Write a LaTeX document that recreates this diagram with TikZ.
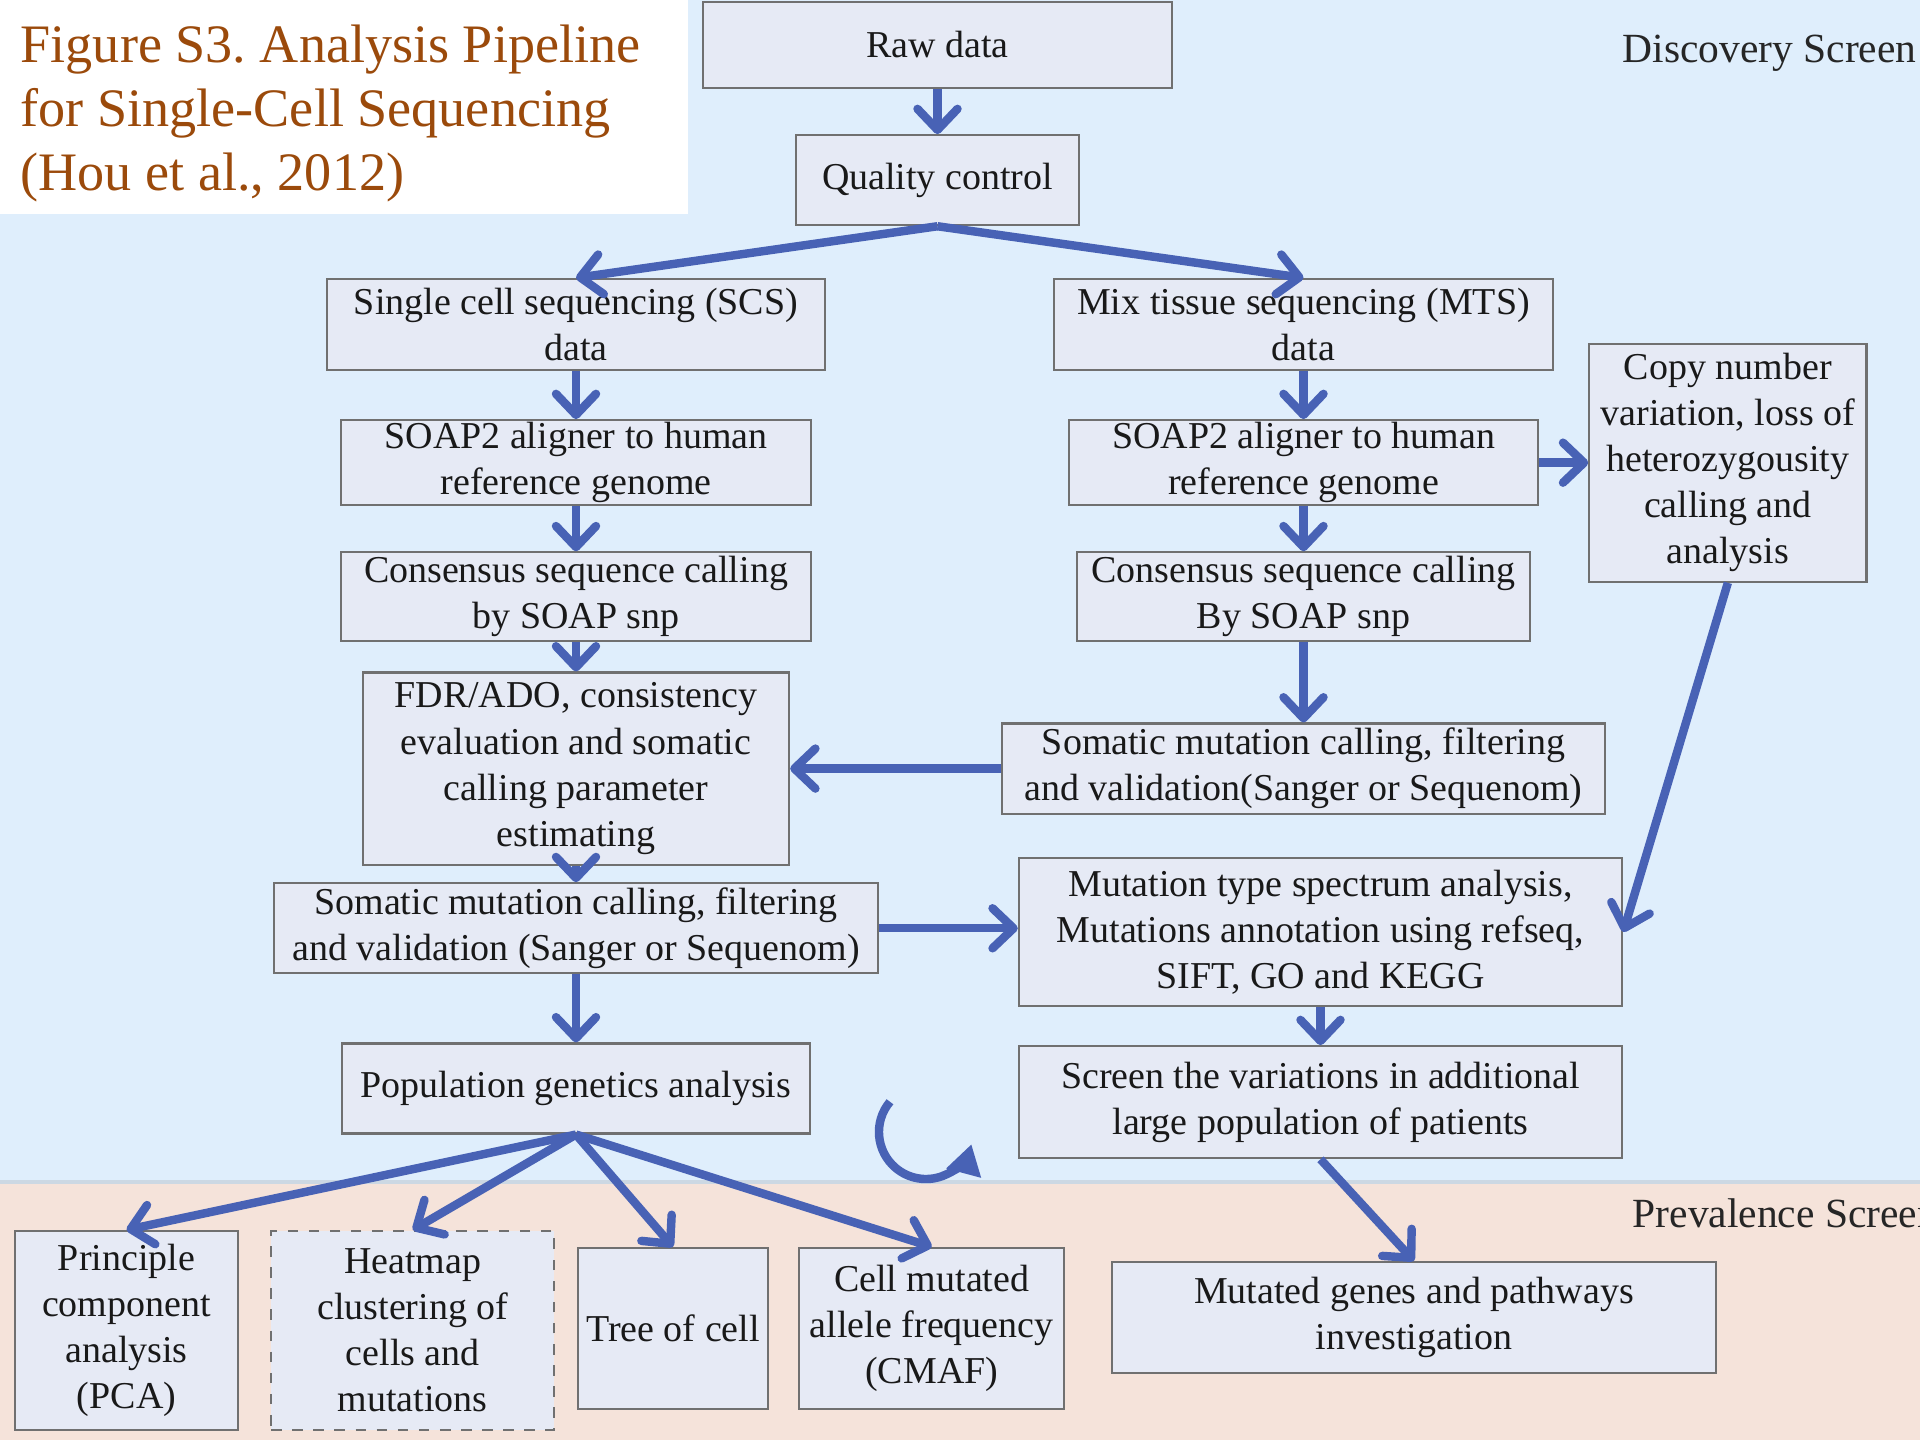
\documentclass[tikz,border=0pt]{standalone}
\usepackage{fontspec}
\setmainfont{Liberation Serif}
\usetikzlibrary{positioning,arrows.meta}
\frenchspacing

\definecolor{discbg}{HTML}{DFEEFC}
\definecolor{prevbg}{HTML}{F5E3DA}
\definecolor{boxfill}{HTML}{E6EAF5}
\definecolor{boxline}{HTML}{707070}
\definecolor{flowblue}{HTML}{4862B5}
\definecolor{titlebrown}{HTML}{9B4A0B}

\begin{document}
\begin{tikzpicture}[
  x=0.01cm, y=-0.01cm,
  box/.style={draw=boxline, fill=boxfill, line width=0.6pt, align=center,
    font=\fontsize{10.8}{13.1}\selectfont, inner xsep=2pt, inner ysep=0.5pt,
    text=black!90},
  flow/.style={draw=flowblue, line width=2.4pt,
    -{Straight Barb[round,length=2.1mm,width=4mm]}},
  loopflow/.style={draw=flowblue, line width=2.4pt,
    -{Triangle[length=3mm,width=3.4mm]}},
  zonelabel/.style={font=\fontsize{11.8}{14}\selectfont, text=black!85,
    anchor=west, inner sep=0pt},
  node distance=0.48cm
]
\useasboundingbox (0,0) rectangle (1920,1440);
\clip (0,0) rectangle (1920,1440);

% screens
\fill[discbg] (0,0) rectangle (1920,1182);
\fill[prevbg] (0,1182) rectangle (1920,1440);
\draw[color=discbg!80!gray, line width=1pt] (0,1182) -- (1920,1182);
\fill[white] (0,0) rectangle (688,214);

\node[anchor=north west, inner sep=0pt, align=left, text=titlebrown,
  font=\fontsize{15.4}{18.2}\selectfont] (title) at (20,24)
  {Figure S3. Analysis Pipeline\\for Single-Cell Sequencing\\(Hou et al., 2012)};
\node[zonelabel] (disc) at (1622,53) {Discovery Screen};
\node[zonelabel] (prev) at (1632,1213) {Prevalence Screen};

% top
\node[box, minimum width=4.69cm, minimum height=0.86cm] (raw) at (937.5,45) {Raw data};
\node[box, minimum width=2.82cm, minimum height=0.9cm, below=0.45cm of raw] (qc) {Quality control};

% single cell branch
\node[box, minimum width=4.97cm, minimum height=0.91cm] (scs) at (576,324.5)
  {Single cell sequencing (SCS)\\data};
\node[box, minimum width=4.69cm, minimum height=0.85cm, below=of scs] (soapL)
  {SOAP2 aligner to human\\reference genome};
\node[box, minimum width=4.69cm, minimum height=0.89cm, below=0.45cm of soapL] (consL)
  {Consensus sequence calling\\by SOAP snp};
\node[box, minimum width=4.26cm, minimum height=1.92cm, below=0.29cm of consL] (fdr)
  {FDR/ADO, consistency\\evaluation and somatic\\calling parameter\\estimating};
\node[box, minimum width=6.04cm, minimum height=0.9cm, below=0.165cm of fdr] (somL)
  {Somatic mutation calling, filtering\\and validation (Sanger or Sequenom)};
\node[box, minimum width=4.68cm, minimum height=0.9cm, below=0.68cm of somL] (pop)
  {Population genetics analysis};

% mix tissue branch
\node[box, minimum width=4.99cm, minimum height=0.91cm] (mts) at (1303.5,324.5)
  {Mix tissue sequencing (MTS)\\data};
\node[box, minimum width=4.69cm, minimum height=0.85cm, below=of mts] (soapR)
  {SOAP2 aligner to human\\reference genome};
\node[box, minimum width=4.52cm, minimum height=0.89cm, below=0.45cm of soapR] (consR)
  {Consensus sequence calling\\By SOAP snp};
\node[box, minimum width=6.02cm, minimum height=0.9cm, below=0.8cm of consR] (somR)
  {Somatic mutation calling, filtering\\and validation(Sanger or Sequenom)};
\node[box, minimum width=2.77cm, minimum height=2.38cm, right=0.49cm of soapR] (cnv)
  {Copy number\\variation, loss of\\heterozygousity\\calling and\\analysis};

\node[box, minimum width=6.03cm, minimum height=1.48cm] (mtype) at (1320.5,932)
  {Mutation type spectrum analysis,\\Mutations annotation using refseq,\\SIFT, GO and KEGG};
\node[box, minimum width=6.03cm, minimum height=1.12cm, below=0.38cm of mtype] (scr)
  {Screen the variations in additional\\large population of patients};

% prevalence screen
\node[box, minimum width=2.23cm, minimum height=1.99cm] (pca) at (126.5,1330.5)
  {Principle\\component\\analysis\\(PCA)};
\node[box, dashed, minimum width=2.83cm, minimum height=1.99cm, right=0.31cm of pca] (heat)
  {Heatmap\\clustering of\\cells and\\mutations};
\node[box, minimum width=1.9cm, minimum height=1.61cm] (tree) at (673,1328.5) {Tree of cell};
\node[box, minimum width=2.65cm, minimum height=1.61cm, right=0.29cm of tree] (cmaf)
  {Cell mutated\\allele frequency\\(CMAF)};
\node[box, minimum width=6.04cm, minimum height=1.11cm] (genes) at (1414,1317.5)
  {Mutated genes and pathways\\investigation};

% connectors
\draw[flow] (raw.south) -- (qc.north);
\draw[flow] (qc.south) -- (scs.north);
\draw[flow] (qc.south) -- (mts.north);
\draw[flow] (scs.south) -- (soapL.north);
\draw[flow] (soapL.south) -- (consL.north);
\draw[flow] (consL.south) -- (fdr.north);
\draw[flow] (fdr.south) -- (somL.north);
\draw[flow] (somL.south) -- (pop.north);
\draw[flow] (mts.south) -- (soapR.north);
\draw[flow] (soapR.south) -- (consR.north);
\draw[flow] (consR.south) -- (somR.north);
\draw[flow] (soapR.east) -- (soapR.east -| cnv.west);
\draw[flow] (somR.west) -- (somR.west -| fdr.east);
\draw[flow] (somL.east) -- (somL.east -| mtype.west);
\draw[flow] (cnv.south) -- (mtype.east);
\draw[flow] (mtype.south) -- (scr.north);
\draw[flow] (scr.south) -- (genes.north);
\foreach \t in {pca,heat,tree,cmaf}
  \draw[flow] (pop.south) -- (\t.north);

% repeat sign
\coordinate (cycle) at (926,1132);
\draw[loopflow] ([shift={(140:0.47cm)}]cycle) arc[start angle=140, end angle=345, radius=0.47cm];
\end{tikzpicture}
\end{document}
